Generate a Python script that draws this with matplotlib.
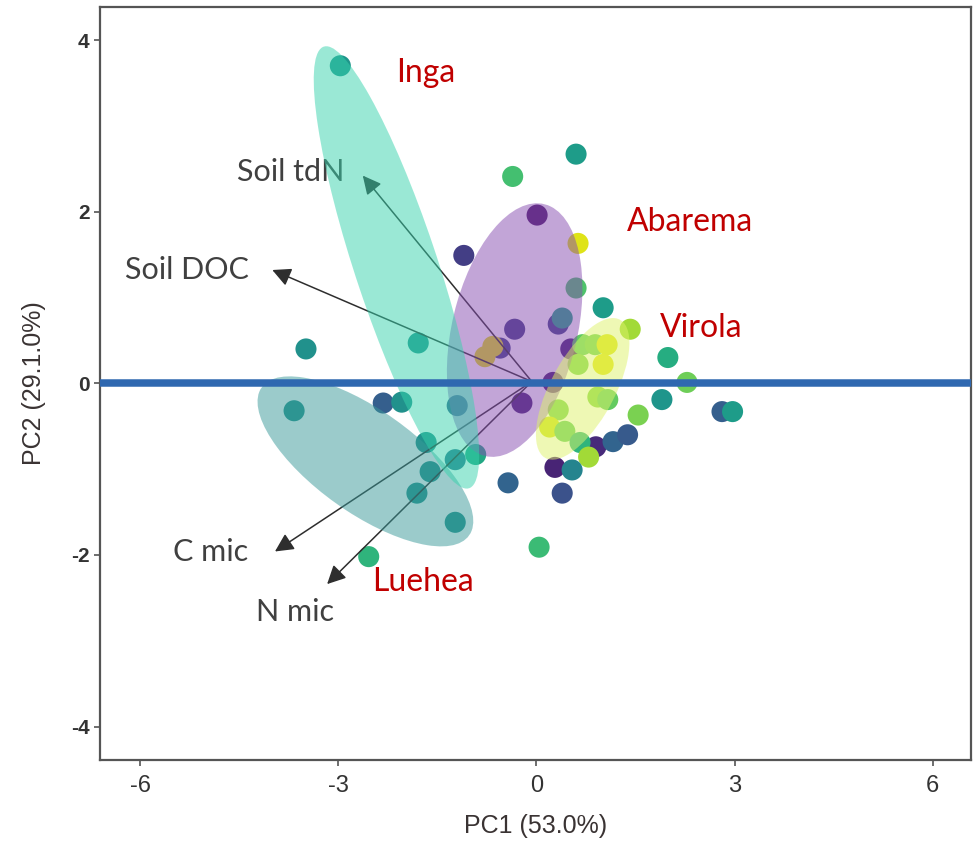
import matplotlib
matplotlib.use("Agg")
import matplotlib.pyplot as plt
from matplotlib.patches import Ellipse

# PCA scores (PC1, PC2) and colour value (viridis scale) per sample
pc1 = [-2.97, 0.60, -0.36, 0.01, 0.63, -1.10, 0.60, 1.01, 0.33, 0.39,
       -0.33, -1.79, -3.49, -0.55, -0.66, -0.78, 0.52, 0.70, 0.89, 1.07,
       1.42, 0.63, 1.01, 1.99, 2.28, 1.90, 1.54, 2.81, 2.97, 0.25,
       -0.22, 0.93, 1.08, 0.33, 0.20, 0.43, 0.90, 0.66, 0.79, 1.16,
       1.38, 0.28, 0.54, 0.39, -0.43, 0.04, -3.67, -2.32, -2.04, -1.20,
       -1.67, -1.23, -0.92, -1.61, -1.81, -1.23, -2.54]
pc2 = [3.70, 2.67, 2.41, 1.96, 1.63, 1.49, 1.11, 0.88, 0.69, 0.76,
       0.63, 0.47, 0.40, 0.41, 0.43, 0.31, 0.40, 0.45, 0.45, 0.45,
       0.63, 0.22, 0.22, 0.30, 0.01, -0.19, -0.37, -0.33, -0.33, 0.01,
       -0.23, -0.16, -0.19, -0.31, -0.51, -0.56, -0.74, -0.69, -0.86, -0.68,
       -0.60, -0.98, -1.01, -1.28, -1.16, -1.91, -0.32, -0.23, -0.22, -0.26,
       -0.69, -0.89, -0.83, -1.03, -1.28, -1.62, -2.02]
shade = [0.52, 0.55, 0.70, 0.05, 0.95, 0.18, 0.72, 0.55, 0.20, 0.60,
         0.18, 0.50, 0.50, 0.20, 0.95, 0.95, 0.10, 0.75, 0.78, 0.95,
         0.86, 0.80, 0.96, 0.62, 0.78, 0.52, 0.80, 0.30, 0.55, 0.08,
         0.10, 0.82, 0.76, 0.80, 0.93, 0.76, 0.12, 0.65, 0.86, 0.32,
         0.28, 0.10, 0.45, 0.25, 0.32, 0.68, 0.50, 0.30, 0.50, 0.30,
         0.50, 0.40, 0.60, 0.50, 0.50, 0.50, 0.65]

# group ellipses: centre, semi-axes, angle (data units)
groups = ["Abarema", "Virola", "Luehea", "Inga"]
ell_cx = [-0.33, 0.70, -2.59, -2.12]
ell_cy = [0.62, -0.065, -0.91, 1.35]
ell_a = [1.54, 0.99, 1.80, 2.80]
ell_b = [0.93, 0.45, 0.64, 0.61]
ell_ang = [69.3, 51.7, -26.7, 113.6]
ell_col = ["#874db1", "#dff36b", "#399999", "#37d3ad"]

# group names and where they are written
grp_lab_x = [2.32, 2.50, -1.72, -1.67]
grp_lab_y = [1.88, 0.64, -2.32, 3.62]

# loading vectors
var_names = ["Soil tdN", "Soil DOC", "C mic", "N mic"]
arrow_x = [-2.63, -4.00, -3.96, -3.17]
arrow_y = [2.42, 1.32, -1.96, -2.34]
arrow_x0, arrow_y0 = -0.07, 0.02
var_lab_x = [-3.72, -5.29, -4.94, -3.65]
var_lab_y = [2.46, 1.32, -1.97, -2.66]

fig = plt.figure(figsize=(9.78, 8.49), dpi=100)
ax = fig.add_axes([0.1022, 0.1048, 0.8906, 0.8875])

ax.scatter(pc1, pc2, c=shade, cmap="viridis", vmin=0, vmax=1,
           s=230, linewidths=0, zorder=2)

for name, x, y, lx, ly in zip(var_names, arrow_x, arrow_y, var_lab_x, var_lab_y):
    ax.annotate("", xy=(x, y), xytext=(arrow_x0, arrow_y0),
                arrowprops=dict(arrowstyle="-|>", color="#2e2e2e", lw=1.1,
                                mutation_scale=28, shrinkA=0, shrinkB=0),
                zorder=2.5)
    ax.text(lx, ly, name, fontsize=22, family="Lato", color="#404040",
            ha="center", va="center", zorder=2.5)

for cx, cy, a, b, ang, col in zip(ell_cx, ell_cy, ell_a, ell_b, ell_ang, ell_col):
    ax.add_patch(Ellipse((cx, cy), 2 * a, 2 * b, angle=ang, facecolor=col,
                         edgecolor="none", alpha=0.5, zorder=3))

for name, x, y in zip(groups, grp_lab_x, grp_lab_y):
    ax.text(x, y, name, fontsize=23, family="Lato", color="#c00000",
            ha="center", va="center", zorder=5)

ax.axhline(0, color="#2f68b0", lw=5.4, zorder=4)

ax.set_xlim(-6.61, 6.58)
ax.set_ylim(-4.39, 4.39)
ax.set_xticks([-6, -3, 0, 3, 6])
ax.set_yticks([-4, -2, 0, 2, 4])
ax.set_xticklabels(["-6", "-3", "0", "3", "6"], fontsize=17,
                   family="Liberation Sans", color="#333333")
ax.set_yticklabels(["-4", "-2", "0", "2", "4"], fontsize=15, fontweight="bold",
                   family="Liberation Sans", color="#333333")
ax.tick_params(direction="out", length=4, width=1.2, color="#555555")
ax.tick_params(axis="x", pad=7)
for sp in ax.spines.values():
    sp.set_color("#555555")
    sp.set_linewidth(1.6)

ax.set_xlabel("PC1 (53.0%)", fontsize=18, family="Liberation Sans",
              color="#3a3333", labelpad=12)
ax.set_ylabel("PC2 (29.1.0%)", fontsize=18, family="Liberation Sans",
              color="#3a3333", labelpad=18)

fig.savefig("out.png", dpi=100)
